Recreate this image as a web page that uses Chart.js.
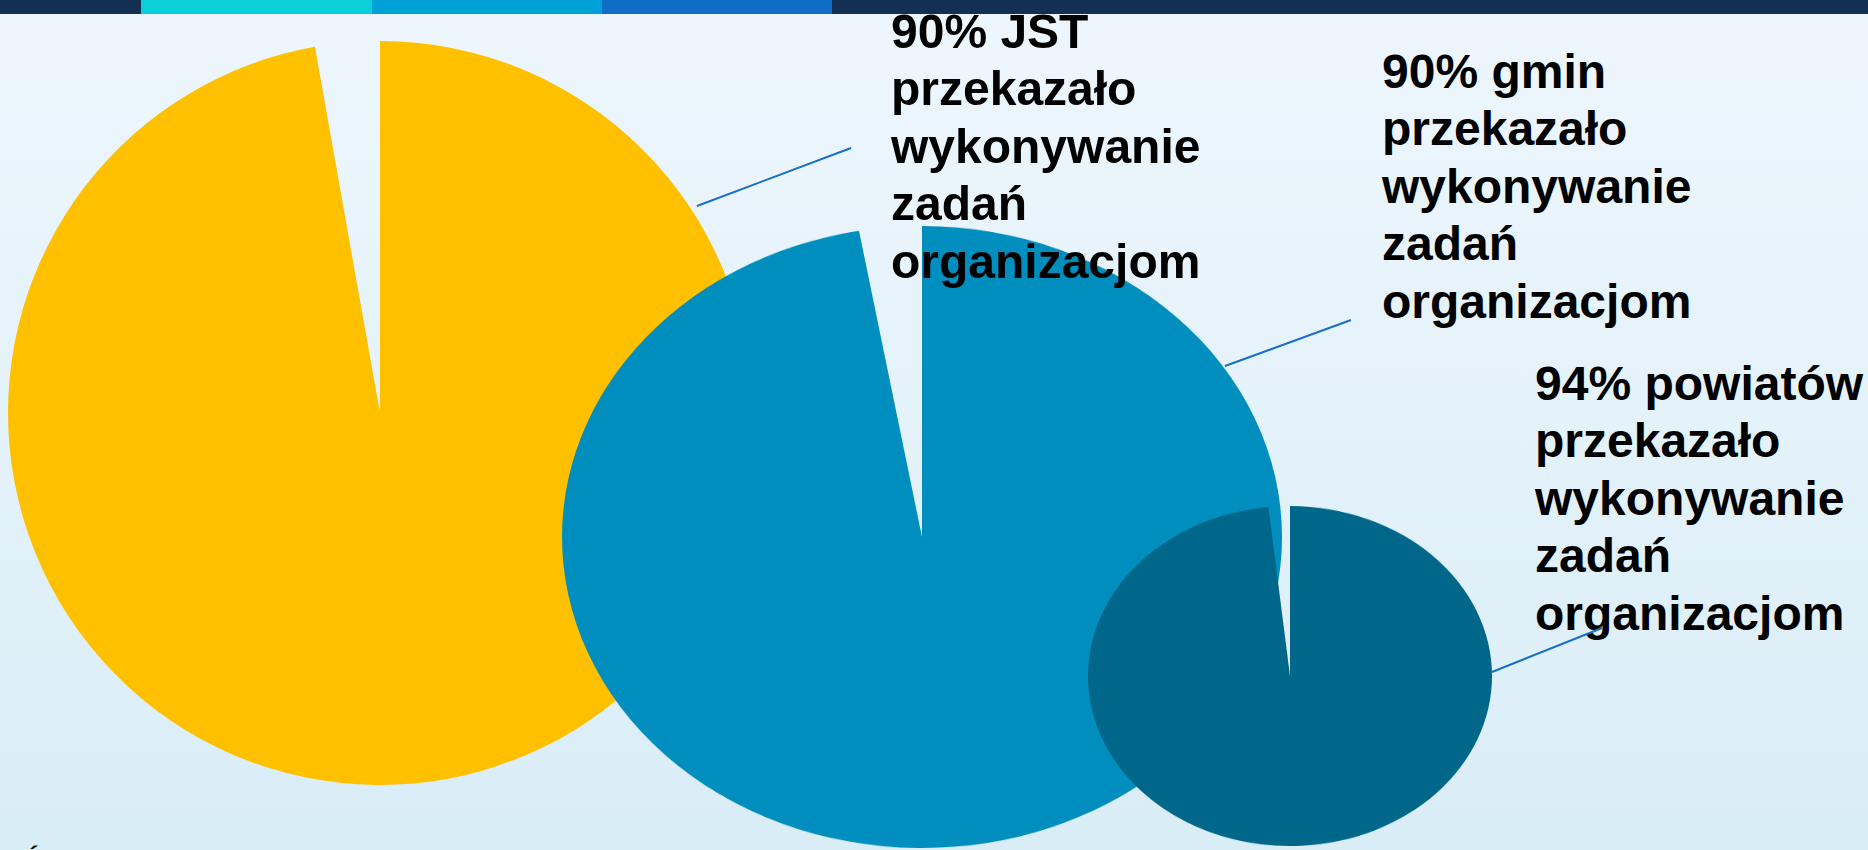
<!DOCTYPE html>
<html lang="pl">
<head>
<meta charset="utf-8">
<title>Przekazywanie zadań organizacjom</title>
<script src="https://cdn.jsdelivr.net/npm/chart.js@4/dist/chart.umd.min.js"></script>
<style>
    html, body {
        margin: 0;
        padding: 0;
        width: 1868px;
        height: 850px;
        overflow: hidden;
    }
    body {
        position: relative;
        background: linear-gradient(to bottom, #EEF6FD 0%, #E4F2FA 50%, #D9EDF7 100%);
        font-family: 'Liberation Sans', Arial, sans-serif;
    }
    .topbar {
        position: absolute;
        left: 0; top: 0;
        width: 1868px; height: 14px;
        display: flex;
        z-index: 10;
        background: #132F52;
    }
    .topbar div { height: 14px; }
    canvas.pie {
        position: absolute;
        transform-origin: 50% 50%;
    }
    .label {
        position: absolute;
        font-weight: bold;
        font-size: 48px;
        line-height: 57.6px;
        color: #000;
        white-space: pre;
        z-index: 5;
    }
    #leaders {
        position: absolute;
        left: 0; top: 0;
        z-index: 6;
    }
    .footer {
        position: absolute;
        left: 24px;
        top: 847px;
        font-weight: bold;
        font-size: 28px;
        line-height: 28px;
        color: #000;
        white-space: pre;
    }
</style>
</head>
<body>
<div class="topbar" id="topbar"></div>
<svg id="leaders" width="1868" height="850"></svg>
<div class="footer">Źródło</div>

<script>
// Dane
const groups = ['JST', 'gmin', 'powiatów'];
const sharePct = [90, 90, 94];
// kąt wyciętego wycinka jest mniejszy niż w etykiecie
const mainSlice = [97.2, 97.2, 98.3];
const gapSlice = [2.8, 2.8, 1.7];
const labelRest = ['przekazało', 'wykonywanie', 'zadań', 'organizacjom'];

const pieColors = ['#FFC000', '#008EBE', '#00678A'];

// Układ (pozycje w px)
const pieLayout = [
    { cx: 380, cy: 413, rx: 372, ry: 372 },
    { cx: 922, cy: 537, rx: 360, ry: 311 },
    { cx: 1290, cy: 676, rx: 202, ry: 170 }
];
const labelLayout = [
    { x: 891, baseline: 48 },
    { x: 1382, baseline: 88 },
    { x: 1535, baseline: 400 }
];
const leaderLayout = [
    [697, 206, 851, 148],
    [1225, 366, 1351, 320],
    [1492, 672, 1602, 628]
];

const topBarSegments = [
    { w: 141, c: '#132F52' },
    { w: 231, c: '#0BD0DA' },
    { w: 230, c: '#00A0D8' },
    { w: 230, c: '#0E6DC4' },
    { w: 1036, c: '#132F52' }
];

function buildTopBar() {
    const bar = document.getElementById('topbar');
    topBarSegments.forEach(s => {
        const d = document.createElement('div');
        d.style.width = s.w + 'px';
        d.style.background = s.c;
        bar.appendChild(d);
    });
}

function renderPie(i) {
    const p = pieLayout[i];
    const canvas = document.createElement('canvas');
    canvas.className = 'pie';
    canvas.width = p.rx * 2;
    canvas.height = p.rx * 2;
    canvas.style.width = (p.rx * 2) + 'px';
    canvas.style.height = (p.rx * 2) + 'px';
    canvas.style.left = (p.cx - p.rx) + 'px';
    canvas.style.top = (p.cy - p.rx) + 'px';
    canvas.style.transform = 'scaleY(' + (p.ry / p.rx) + ')';
    canvas.style.zIndex = 1 + i;
    document.body.appendChild(canvas);

    new Chart(canvas.getContext('2d'), {
        type: 'pie',
        data: {
            labels: [sharePct[i] + '% ' + groups[i], 'pozostałe'],
            datasets: [{
                data: [mainSlice[i], gapSlice[i]],
                backgroundColor: [pieColors[i], 'rgba(0,0,0,0)'],
                borderWidth: 0,
                offset: 0,
                hoverOffset: 0
            }]
        },
        options: {
            responsive: false,
            animation: false,
            devicePixelRatio: 1,
            events: [],
            layout: { padding: 0 },
            plugins: {
                legend: { display: false },
                tooltip: { enabled: false }
            }
        }
    });
}

function renderLabels() {
    // baseline offset dla Liberation Sans 48px / 57.6px
    const baseOffset = (57.6 - 48 * 1.117) / 2 + 48 * 0.905;
    groups.forEach((g, i) => {
        const l = labelLayout[i];
        const div = document.createElement('div');
        div.className = 'label';
        div.textContent = [sharePct[i] + '% ' + g].concat(labelRest).join('\n');
        div.style.left = l.x + 'px';
        div.style.top = (l.baseline - baseOffset) + 'px';
        document.body.appendChild(div);
    });
}

function renderLeaders() {
    const svg = document.getElementById('leaders');
    const ns = 'http://www.w3.org/2000/svg';
    leaderLayout.forEach(([x1, y1, x2, y2]) => {
        const line = document.createElementNS(ns, 'line');
        line.setAttribute('x1', x1);
        line.setAttribute('y1', y1);
        line.setAttribute('x2', x2);
        line.setAttribute('y2', y2);
        line.setAttribute('stroke', '#1A6FC9');
        line.setAttribute('stroke-width', '2');
        svg.appendChild(line);
    });
}

buildTopBar();
pieLayout.forEach((p, i) => renderPie(i));
renderLabels();
renderLeaders();
</script>
</body>
</html>
